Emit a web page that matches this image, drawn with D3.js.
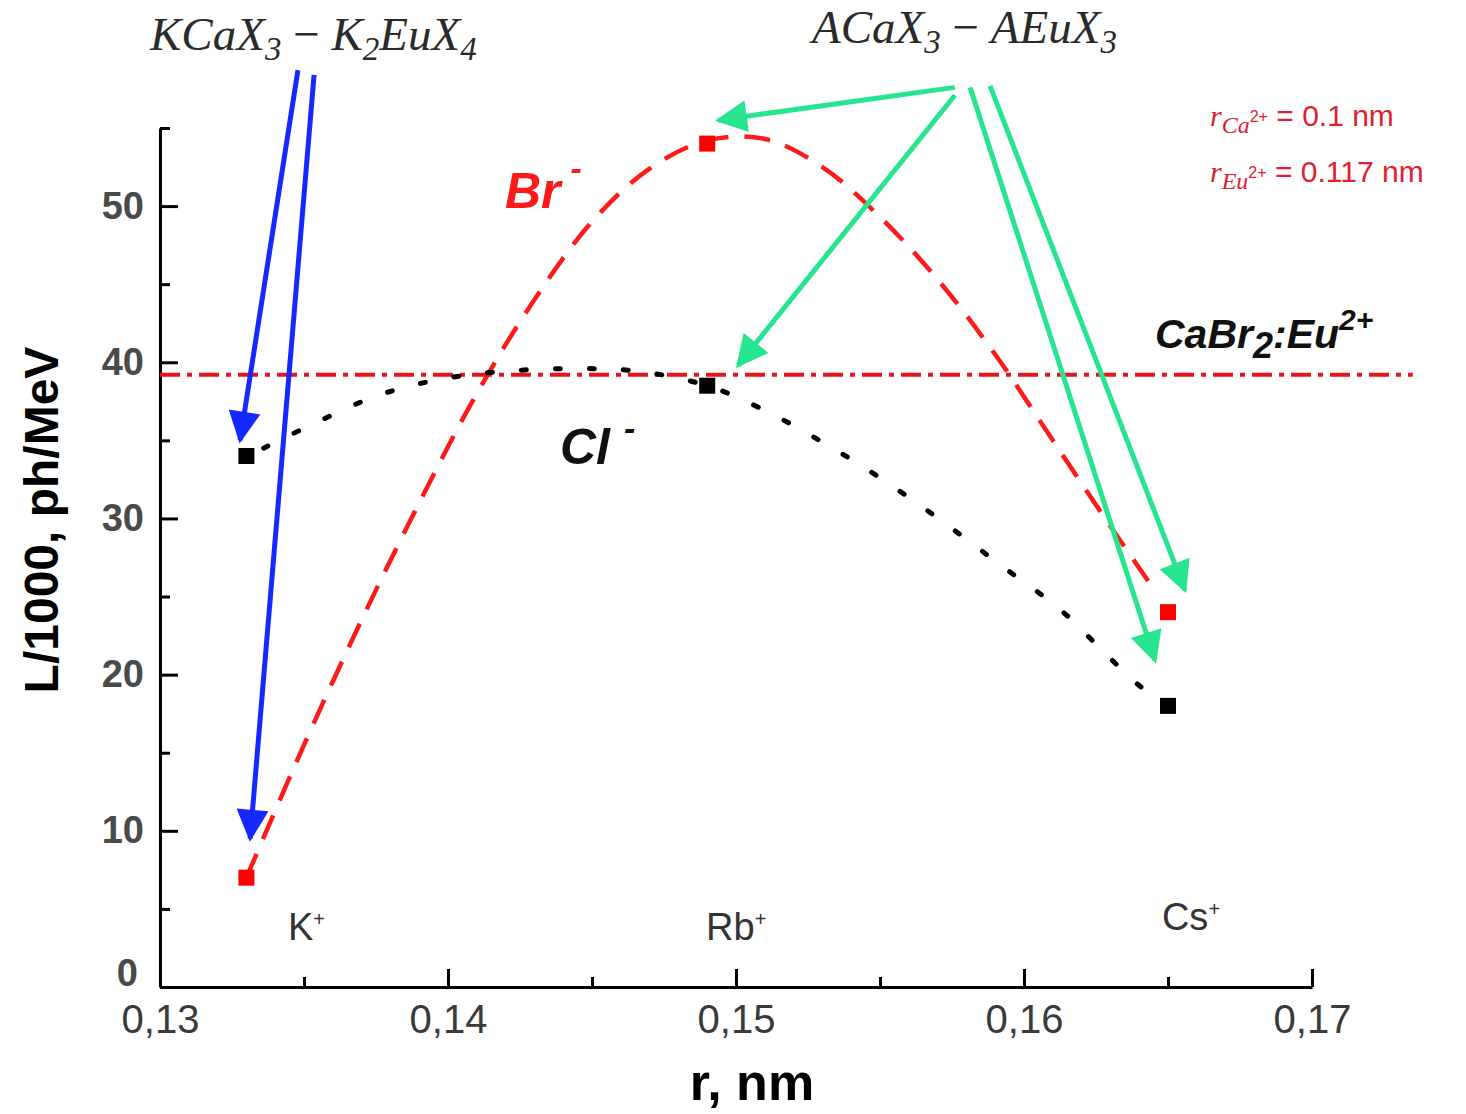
<!DOCTYPE html>
<meta charset="utf-8">
<title>L vs r</title>
<style>
body { margin: 0; background: #fff; }
svg { background: #fff; display: block; }
.tick text { fill: #3a3a3a; }
.narrow { font-family: "Liberation Sans Narrow", "Arial Narrow", "Liberation Sans", sans-serif; }
.serif { font-family: "Liberation Serif", "DejaVu Serif", serif; font-style: italic; }
</style>
<body>
<script src="https://cdn.jsdelivr.net/npm/d3@7"></script>
<script>

var width = 1466, height = 1114;

// ion radii (nm) and light yield (ph/MeV / 1000)
var ions = ["K", "Rb", "Cs"];
var radii = [0.133, 0.149, 0.165];
var brValues = [7, 54, 24];
var clValues = [34, 38.5, 18];
var caBr2Level = 39.2;

// guide curves: [r, L]
var brCurve = [[0.133, 7], [0.135, 15.5], [0.137, 23.5], [0.139, 31], [0.141, 38], [0.143, 44],
  [0.145, 49], [0.147, 52.4], [0.149, 54.2], [0.151, 54.3], [0.153, 52.5], [0.155, 49.3],
  [0.157, 45.3], [0.159, 40.5], [0.161, 35], [0.163, 29.5], [0.1645, 25.5]];
var clCurve = [[0.1336, 34.5], [0.1356, 36.3], [0.1376, 37.9], [0.1397, 38.9], [0.1418, 39.4],
  [0.1446, 39.6], [0.1467, 39.4], [0.149, 38.5], [0.1508, 37.1], [0.1529, 35.0], [0.155, 32.6],
  [0.1571, 29.9], [0.1592, 27.0], [0.1613, 24.1], [0.1628, 21.4], [0.164, 19.3], [0.1645, 18.7]];

var xTicks = [0.13, 0.14, 0.15, 0.16, 0.17];
var xMinor = [0.135, 0.145, 0.155, 0.165];
var yTicks = [0, 10, 20, 30, 40, 50];
var yMinor = [5, 15, 25, 35, 45, 55];

// annotation arrows: [r0, L0, r1, L1]
var blueArrows = [[0.13479, 58.7, 0.13278, 35.0], [0.13535, 58.4, 0.13313, 9.5]];
var greenArrows = [[0.1576, 57.6, 0.14938, 55.5], [0.1576, 57.1, 0.15007, 39.8],
  [0.15813, 57.6, 0.16455, 20.9], [0.15882, 57.7, 0.16559, 25.4]];

var x = d3.scaleLinear().domain([0.13, 0.17]).range([160, 1312]);
var y = d3.scaleLinear().domain([0, 55]).range([987, 128]);

var svg = d3.select("body").append("svg")
    .attr("width", width)
    .attr("height", height);

var defs = svg.append("defs");
[["blue", "#1428ff"], ["green", "#27e58e"]].forEach(function (m) {
  defs.append("marker")
      .attr("id", "head-" + m[0])
      .attr("viewBox", "0 0 10 10")
      .attr("refX", 9).attr("refY", 5)
      .attr("markerUnits", "userSpaceOnUse")
      .attr("markerWidth", 36).attr("markerHeight", 32)
      .attr("orient", "auto")
    .append("path")
      .attr("d", "M0,0 L10,5 L0,10 Z")
      .attr("fill", m[1]);
});

// axes
var fmt = function (d) { return d3.format(".2f")(d).replace(".", ","); };

var gx = svg.append("g").attr("class", "narrow")
    .attr("transform", "translate(0," + y(0) + ")")
    .call(d3.axisBottom(x).tickValues(xTicks).tickFormat(fmt).tickSizeInner(-18).tickSizeOuter(0).tickPadding(18));
svg.append("g")
    .attr("transform", "translate(0," + y(0) + ")")
    .call(d3.axisBottom(x).tickValues(xMinor).tickFormat("").tickSizeInner(-10).tickSizeOuter(0))
    .select(".domain").remove();

var gy = svg.append("g")
    .attr("transform", "translate(" + x(0.13) + ",0)")
    .call(d3.axisLeft(y).tickValues(yTicks).tickSizeInner(-18).tickSizeOuter(0).tickPadding(16));
svg.append("g")
    .attr("transform", "translate(" + x(0.13) + ",0)")
    .call(d3.axisLeft(y).tickValues(yMinor).tickFormat("").tickSizeInner(-10).tickSizeOuter(0))
    .select(".domain").remove();

svg.selectAll(".domain, .tick line").attr("stroke", "#000").attr("stroke-width", 3);
gx.selectAll(".tick text").attr("font-size", 40);
gy.selectAll(".tick text").attr("font-size", 38).attr("font-weight", "bold")
    .attr("font-family", "Liberation Sans, sans-serif").style("fill", "#4a4a4a");
gy.selectAll(".tick text").filter(function (d) { return d === 0; })
    .attr("dy", "-0.05em").attr("x", -22);

// axis titles
svg.append("text").attr("class", "narrow")
    .attr("x", 752).attr("y", 1100)
    .attr("text-anchor", "middle")
    .attr("font-size", 52).attr("font-weight", "bold")
    .text("r, nm");
svg.append("text").attr("class", "narrow")
    .attr("transform", "translate(58," + 520 + ") rotate(-90)")
    .attr("text-anchor", "middle")
    .attr("font-size", 48).attr("font-weight", "bold")
    .text("L/1000, ph/MeV");

// CaBr2:Eu reference line
svg.append("line")
    .attr("x1", x(0.13)).attr("x2", x(0.1735))
    .attr("y1", y(caBr2Level)).attr("y2", y(caBr2Level))
    .attr("stroke", "#e8141c").attr("stroke-width", 4)
    .attr("stroke-dasharray", "20 7 5 7");

var line = d3.line()
    .x(function (d) { return x(d[0]); })
    .y(function (d) { return y(d[1]); })
    .curve(d3.curveCatmullRom);

svg.append("path").datum(brCurve)
    .attr("d", line)
    .attr("fill", "none").attr("stroke", "#ff1a1a").attr("stroke-width", 4.5)
    .attr("stroke-dasharray", "26 16");

svg.append("path").datum(clCurve)
    .attr("d", line)
    .attr("fill", "none").attr("stroke", "#000").attr("stroke-width", 5)
    .attr("stroke-linecap", "round")
    .attr("stroke-dasharray", "5 29");

// points
svg.selectAll("rect.br").data(radii).enter().append("rect")
    .attr("class", "br")
    .attr("x", function (d) { return x(d) - 8; })
    .attr("y", function (d, i) { return y(brValues[i]) - 8; })
    .attr("width", 16).attr("height", 16)
    .attr("fill", "#ff0000");
svg.selectAll("rect.cl").data(radii).enter().append("rect")
    .attr("class", "cl")
    .attr("x", function (d) { return x(d) - 8; })
    .attr("y", function (d, i) { return y(clValues[i]) - 8; })
    .attr("width", 16).attr("height", 16)
    .attr("fill", "#000");

// arrows
function drawArrows(data, color, id) {
  svg.selectAll("line." + id).data(data).enter().append("line")
      .attr("class", id)
      .attr("x1", function (d) { return x(d[0]); })
      .attr("y1", function (d) { return y(d[1]); })
      .attr("x2", function (d) { return x(d[2]); })
      .attr("y2", function (d) { return y(d[3]); })
      .attr("stroke", color).attr("stroke-width", 5)
      .attr("marker-end", "url(#head-" + id + ")");
}
drawArrows(blueArrows, "#1428ff", "blue");
drawArrows(greenArrows, "#27e58e", "green");

// ion labels
var ionDx = [60, 29, 23], ionY = [940, 940, 930];
ions.forEach(function (name, i) {
  var t = svg.append("text").attr("class", "narrow")
      .attr("x", x(radii[i]) + ionDx[i]).attr("y", ionY[i])
      .attr("text-anchor", "middle")
      .attr("font-size", 38).attr("fill", "#333");
  t.append("tspan").text(name);
  t.append("tspan").attr("dy", -14).attr("font-size", 20).text("+");
});

// series labels
var br = svg.append("text")
    .attr("x", 505).attr("y", 208)
    .attr("font-family", "Liberation Sans, sans-serif")
    .attr("font-size", 50).attr("font-weight", "bold").attr("font-style", "italic")
    .attr("fill", "#ff1a1a");
br.append("tspan").text("Br");
br.append("tspan").attr("dx", 10).attr("dy", -28).attr("font-size", 34).text("-");

var cl = svg.append("text")
    .attr("x", 560).attr("y", 464)
    .attr("font-family", "Liberation Sans, sans-serif")
    .attr("font-size", 50).attr("font-weight", "bold").attr("font-style", "italic")
    .attr("fill", "#111");
cl.append("tspan").text("Cl");
cl.append("tspan").attr("dx", 14).attr("dy", -24).attr("font-size", 34).text("-");

var ca = svg.append("text")
    .attr("x", 1155).attr("y", 348)
    .attr("font-family", "Liberation Sans, sans-serif")
    .attr("font-size", 41).attr("font-weight", "bold").attr("font-style", "italic")
    .attr("fill", "#111");
ca.append("tspan").text("CaBr");
ca.append("tspan").attr("dy", 10).attr("font-size", 36).text("2");
ca.append("tspan").attr("dy", -10).text(":Eu");
ca.append("tspan").attr("dy", -18).attr("font-size", 30).text("2+");

// formula headers
function formula(px, py, parts) {
  var t = svg.append("text").attr("class", "serif")
      .attr("x", px).attr("y", py)
      .attr("font-size", 47).attr("fill", "#2a2a2a");
  parts.forEach(function (p) {
    var s = t.append("tspan").text(p[0]);
    if (p[1] === "sub") s.attr("font-size", 33).attr("dy", 10);
    if (p[1] === "up") s.attr("dy", -10);
    if (p[1] === "op") s.attr("font-style", "normal").attr("dy", -10);
  });
}
formula(150, 50, [["KCaX"], ["3", "sub"], [" \u2212 ", "op"], ["K"], ["2", "sub"], ["EuX", "up"], ["4", "sub"]]);
formula(812, 43, [["ACaX"], ["3", "sub"], [" \u2212 ", "op"], ["AEuX"], ["3", "sub"]]);

// ion radius notes
function radius(py, ion, val) {
  var t = svg.append("text")
      .attr("x", 1210).attr("y", py)
      .attr("font-size", 30).attr("fill", "#e0202e");
  t.append("tspan").attr("class", "serif").text("r");
  t.append("tspan").attr("class", "serif").attr("font-size", 24).attr("dy", 7).text(ion);
  t.append("tspan").attr("font-family", "Liberation Sans, sans-serif").attr("font-size", 16).attr("dy", -11).text("2+");
  t.append("tspan").attr("font-family", "Liberation Sans, sans-serif").attr("dy", 4).text(" = " + val + " nm");
}
radius(126, "Ca", "0.1");
radius(182, "Eu", "0.117");

</script>
</body>
